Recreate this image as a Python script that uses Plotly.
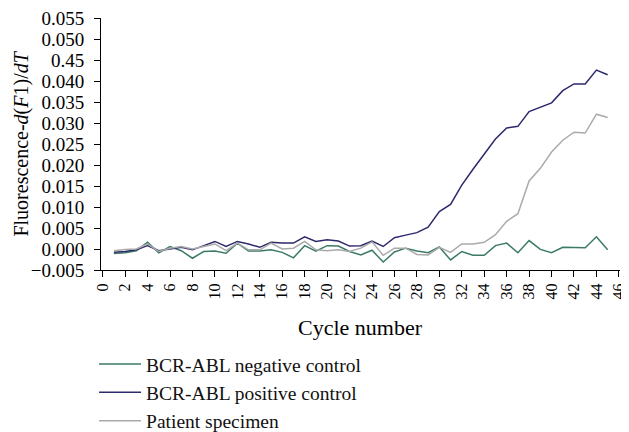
import plotly.graph_objects as go

cycles = list(range(1, 46))

negative_control = [-0.0011, -0.0009, -0.0004, 0.0016, -0.0009, 0.0006, -0.0004, -0.0022, -0.0006, -0.0005,
                    -0.0010, 0.0014, -0.0005, -0.0005, -0.0002, -0.0008, -0.0021, 0.0008, -0.0005, 0.0008,
                    0.0007, -0.0006, -0.0014, -0.0003, -0.0031, -0.0007, 0.0002, -0.0005, -0.0009, 0.0005,
                    -0.0026, -0.0006, -0.0015, -0.0015, 0.0008, 0.0014, -0.0009, 0.0020, -0.0001, -0.0009,
                    0.0004, 0.0003, 0.0003, 0.0029, -0.0002]

positive_control = [-0.0008, -0.0006, -0.0002, 0.0008, -0.0004, 0.0000, 0.0004, -0.0002, 0.0008, 0.0018,
                    0.0006, 0.0018, 0.0012, 0.0004, 0.0016, 0.0014, 0.0014, 0.0029, 0.0018, 0.0022,
                    0.0019, 0.0007, 0.0008, 0.0019, 0.0006, 0.0027, 0.0033, 0.0039, 0.0052, 0.0089,
                    0.0106, 0.0152, 0.0190, 0.0226, 0.0262, 0.0288, 0.0292, 0.0327, 0.0337, 0.0348,
                    0.0377, 0.0393, 0.0393, 0.0426, 0.0415]

patient_specimen = [-0.0004, -0.0001, 0.0000, 0.0012, -0.0006, 0.0002, 0.0006, 0.0000, 0.0006, 0.0012,
                    -0.0004, 0.0014, -0.0002, -0.0002, 0.0014, 0.0000, 0.0002, 0.0018, -0.0002, -0.0004,
                    -0.0002, -0.0006, 0.0002, 0.0017, -0.0015, 0.0002, 0.0002, -0.0013, -0.0014, 0.0004,
                    -0.0008, 0.0012, 0.0012, 0.0016, 0.0034, 0.0066, 0.0084, 0.0162, 0.0192, 0.0231,
                    0.0259, 0.0278, 0.0276, 0.0321, 0.0313]

y_tick_vals = [-0.005, 0.000, 0.005, 0.010, 0.015, 0.020, 0.025, 0.030, 0.035, 0.040, 0.045, 0.050, 0.055]
y_tick_text = ["\u22120.005", "0.000", "0.005", "0.010", "0.015", "0.020", "0.025", "0.030",
               "0.035", "0.040", "0.45", "0.050", "0.055"]
x_tick_vals = list(range(0, 47, 2))

FONT = "Liberation Serif"

fig = go.Figure()
fig.add_trace(go.Scatter(x=cycles, y=negative_control, mode="lines", name="BCR-ABL negative control",
                         line=dict(color="#3b7a66", width=1.5)))
fig.add_trace(go.Scatter(x=cycles, y=positive_control, mode="lines", name="BCR-ABL positive control",
                         line=dict(color="#2c2a6c", width=1.5)))
fig.add_trace(go.Scatter(x=cycles, y=patient_specimen, mode="lines", name="Patient specimen",
                         line=dict(color="#aaaaaa", width=1.5)))

# the page body has an 8px default margin, so the figure is sized to fit the window
fig.update_layout(
    width=621, height=424,
    margin=dict(l=93, r=9, t=10, b=162, autoexpand=False),
    paper_bgcolor="white", plot_bgcolor="white",
    font=dict(family=FONT, color="black", size=17),
    showlegend=True,
    legend=dict(x=-0.0134, y=-0.297, xanchor="left", yanchor="top",
                font=dict(family=FONT, size=19.5, color="#111"),
                bgcolor="rgba(0,0,0,0)", tracegroupgap=0, itemwidth=42),
    xaxis=dict(range=[-0.15, 46.1], tickmode="array", tickvals=x_tick_vals,
               ticktext=[str(v) for v in x_tick_vals], tickangle=-90,
               ticks="outside", ticklen=6, tickcolor="black", tickwidth=1,
               ticklabeloverflow="allow",
               showline=True, linecolor="black", linewidth=1, showgrid=False, zeroline=False,
               tickfont=dict(family=FONT, size=16, color="black")),
    yaxis=dict(range=[-0.005, 0.055], tickmode="array", tickvals=y_tick_vals, ticktext=y_tick_text,
               ticks="outside", ticklen=6, tickcolor="black", tickwidth=1,
               ticklabelstandoff=6, ticklabeloverflow="allow",
               showline=True, linecolor="black", linewidth=1, showgrid=False, zeroline=False,
               tickfont=dict(family=FONT, size=19, color="black")),
    annotations=[
        dict(text="Fluorescence-<i>d</i>(<i>F</i>1)/<i>dT</i>", xref="paper", yref="paper",
             x=-0.155, y=0.5, xanchor="center", yanchor="middle", textangle=-90, showarrow=False,
             font=dict(family=FONT, size=20, color="black")),
        dict(text="Cycle number", xref="paper", yref="paper",
             x=0.5, y=-0.227, xanchor="center", yanchor="middle", showarrow=False,
             font=dict(family=FONT, size=22, color="black")),
    ],
)

fig.write_html("out.html")
